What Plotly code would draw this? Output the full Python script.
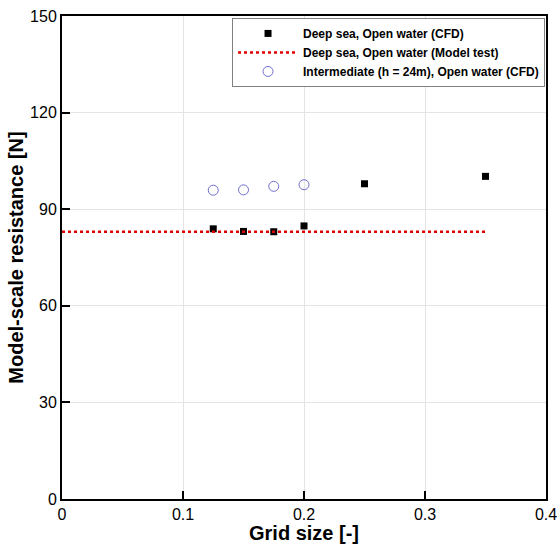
import plotly.graph_objects as go

# Data
grid_deep = [0.125, 0.15, 0.175, 0.2, 0.25, 0.35]
res_deep = [83.9, 83.1, 83.0, 84.8, 97.9, 100.2]
grid_model = [0.0, 0.35]
res_model = [83.0, 83.0]
grid_inter = [0.125, 0.15, 0.175, 0.2]
res_inter = [95.9, 96.0, 97.1, 97.6]

x_ticks = [0, 0.1, 0.2, 0.3, 0.4]
x_tick_labels = ["0", "0.1", "0.2", "0.3", "0.4"]
y_ticks = [0, 30, 60, 90, 120, 150]

fig = go.Figure()
fig.add_trace(go.Scatter(
    x=grid_deep, y=res_deep, mode="markers",
    name="Deep sea, Open water (CFD)",
    marker=dict(symbol="square", size=7, color="black"),
))
fig.add_trace(go.Scatter(
    x=grid_model, y=res_model, mode="lines",
    name="Deep sea, Open water (Model test)",
    line=dict(color="#e00000", width=2.5, dash="dot"),
))
fig.add_trace(go.Scatter(
    x=grid_inter, y=res_inter, mode="markers",
    name="Intermediate (h = 24m), Open water (CFD)",
    marker=dict(symbol="circle-open", size=10, color="#7070d0", line=dict(width=1)),
))

fig.update_layout(
    width=560, height=544,
    margin=dict(l=62, r=14, t=16, b=45),
    paper_bgcolor="white", plot_bgcolor="white",
    font=dict(family="Liberation Sans, Arial, sans-serif", color="black"),
    showlegend=True,
    legend=dict(
        x=0.998, y=0.996, xanchor="right", yanchor="top",
        bgcolor="white", bordercolor="#808080", borderwidth=1,
        font=dict(size=12, family="Liberation Sans, Arial, sans-serif", weight="bold"),
        tracegroupgap=0, itemwidth=60,
    ),
)
fig.update_xaxes(
    range=[0, 0.4], tickvals=x_ticks, ticktext=x_tick_labels,
    showgrid=True, gridcolor="#e4e4e4", gridwidth=1,
    showline=True, linecolor="black", linewidth=2, mirror=True,
    ticks="inside", ticklen=8, tickwidth=2, tickcolor="black",
    tickfont=dict(size=16), zeroline=False, automargin=False,
    title=dict(text="<b>Grid size [-]</b>", font=dict(size=20), standoff=0),
)
fig.update_yaxes(
    range=[0, 150], tickvals=y_ticks,
    showgrid=True, gridcolor="#e4e4e4", gridwidth=1,
    showline=True, linecolor="black", linewidth=2, mirror=True,
    ticks="inside", ticklen=8, tickwidth=2, tickcolor="black",
    tickfont=dict(size=16), zeroline=False, automargin=False,
    title=dict(text="<b>Model-scale resistance [N]</b>", font=dict(size=20), standoff=1),
)

fig.write_html(
    "out.html",
    config={"displayModeBar": False},
    post_script="document.body.style.margin='0px';document.body.style.overflow='hidden';",
)
